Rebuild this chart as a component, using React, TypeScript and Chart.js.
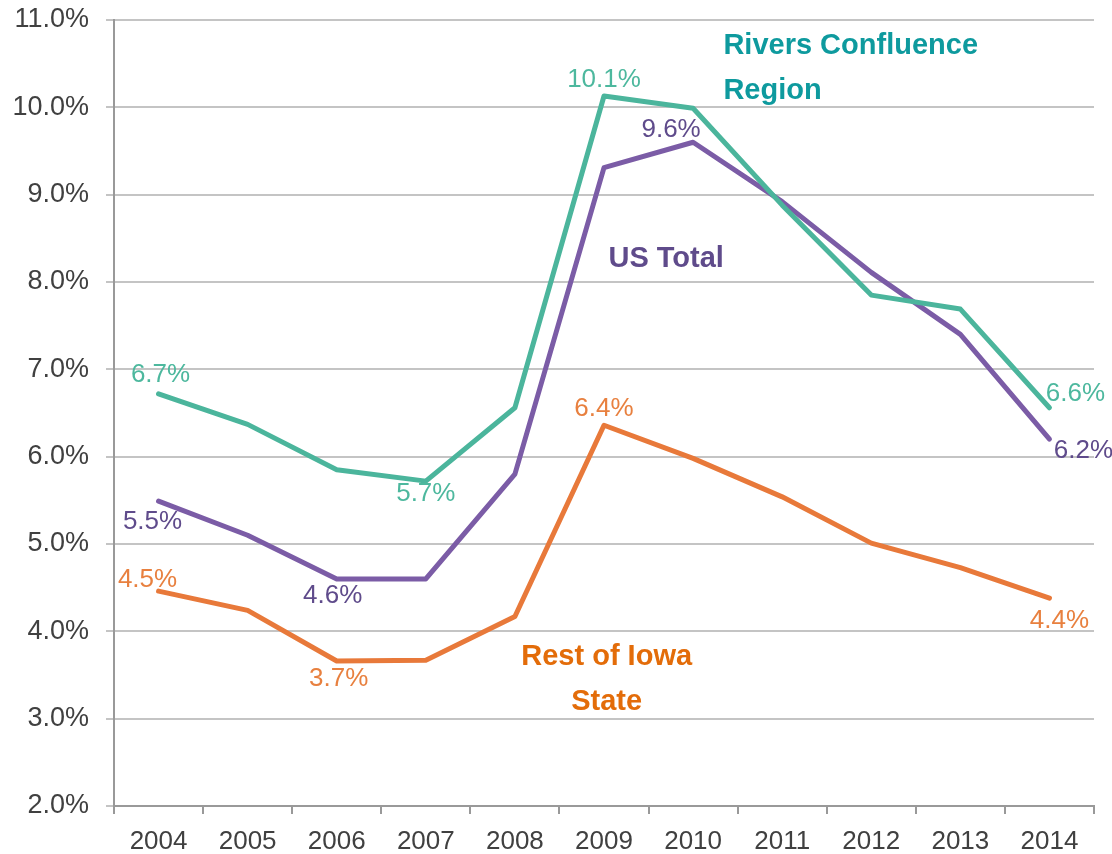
import React, { useEffect, useRef } from "react";
import { Chart, registerables } from "chart.js";

Chart.register(...registerables);

const years = ["2004", "2005", "2006", "2007", "2008", "2009", "2010", "2011", "2012", "2013", "2014"];
const riversConfluence = [6.72, 6.37, 5.85, 5.72, 6.56, 10.13, 9.99, 8.88, 7.85, 7.69, 6.56];
const usTotal = [5.49, 5.1, 4.6, 4.6, 5.8, 9.31, 9.6, 8.92, 8.11, 7.4, 6.2];
const restOfIowa = [4.46, 4.24, 3.66, 3.67, 4.17, 6.36, 5.98, 5.54, 5.01, 4.73, 4.38];
const yTicks = [2, 3, 4, 5, 6, 7, 8, 9, 10, 11];

// which points get value labels, and label offsets (px) relative to the point
const riversLabels = [
  { i: 0, dx: 2, dy: -19 },
  { i: 3, dx: 0, dy: 13 },
  { i: 5, dx: 0, dy: -16 },
  { i: 10, dx: 26, dy: -14 },
];
const usLabels = [
  { i: 0, dx: -6, dy: 21 },
  { i: 2, dx: -4, dy: 17 },
  { i: 6, dx: -22, dy: -12 },
  { i: 10, dx: 34, dy: 12 },
];
const iowaLabels = [
  { i: 0, dx: -11, dy: -11 },
  { i: 2, dx: 2, dy: 18 },
  { i: 5, dx: 0, dy: -16 },
  { i: 10, dx: 10, dy: 23 },
];

const GREEN = "#4BB59C";
const PURPLE = "#7B5CA6";
const ORANGE = "#E8793A";
const GREEN_LABEL = "#4DB89E";
const PURPLE_LABEL = "#5F4B8B";
const ORANGE_LABEL = "#E8803F";

const annotations = [
  { text: "Rivers Confluence", x: 6.34, y: 10.7, color: "#0E9A9E", align: "left" },
  { text: "Region", x: 6.34, y: 10.19, color: "#0E9A9E", align: "left" },
  { text: "US Total", x: 5.05, y: 8.26, color: "#5F4B8B", align: "left" },
  { text: "Rest of Iowa", x: 5.03, y: 3.71, color: "#E36C09", align: "center" },
  { text: "State", x: 5.03, y: 3.19, color: "#E36C09", align: "center" },
];

const labelPlugin = {
  id: "valueLabels",
  afterDatasetsDraw(chart: any) {
    const ctx = chart.ctx;
    const sets = [
      { ds: 0, labels: riversLabels, color: GREEN_LABEL },
      { ds: 1, labels: usLabels, color: PURPLE_LABEL },
      { ds: 2, labels: iowaLabels, color: ORANGE_LABEL },
    ];
    ctx.save();
    ctx.font = "26px 'Liberation Sans', Arial, sans-serif";
    ctx.textAlign = "center";
    ctx.textBaseline = "middle";
    for (const s of sets) {
      const meta = chart.getDatasetMeta(s.ds);
      const data = chart.data.datasets[s.ds].data as number[];
      ctx.fillStyle = s.color;
      for (const l of s.labels) {
        const pt = meta.data[l.i];
        ctx.fillText(data[l.i].toFixed(1) + "%", pt.x + l.dx, pt.y + l.dy);
      }
    }
    const xs = chart.scales.x;
    const ys = chart.scales.y;
    ctx.font = "bold 29px 'Liberation Sans', Arial, sans-serif";
    for (const a of annotations) {
      const px = xs.getPixelForValue(a.x);
      const py = ys.getPixelForValue(a.y);
      ctx.fillStyle = a.color;
      ctx.textAlign = a.align as CanvasTextAlign;
      ctx.fillText(a.text, px, py);
    }
    ctx.restore();
  },
};

export default function App() {
  const ref = useRef<HTMLCanvasElement | null>(null);
  useEffect(() => {
    if (!ref.current) return;
    const chart = new Chart(ref.current, {
      type: "line",
      data: {
        labels: years,
        datasets: [
          { label: "Rivers Confluence Region", data: riversConfluence, borderColor: GREEN, borderWidth: 5, pointRadius: 0, tension: 0, borderCapStyle: "round", borderJoinStyle: "round" },
          { label: "US Total", data: usTotal, borderColor: PURPLE, borderWidth: 5, pointRadius: 0, tension: 0, borderCapStyle: "round", borderJoinStyle: "round" },
          { label: "Rest of Iowa State", data: restOfIowa, borderColor: ORANGE, borderWidth: 5, pointRadius: 0, tension: 0, borderCapStyle: "round", borderJoinStyle: "round" },
        ],
      },
      options: {
        animation: false,
        responsive: true,
        maintainAspectRatio: false,
        layout: { padding: { top: 20, right: 18, left: 0, bottom: 0 } },
        plugins: { legend: { display: false }, tooltip: { enabled: false } },
        scales: {
          x: {
            type: "category",
            offset: true,
            grid: { display: true, drawOnChartArea: false, drawTicks: true, tickLength: 8, color: "#999999", lineWidth: 2, offset: true },
            border: { display: true, color: "#999999", width: 2 },
            ticks: { font: { size: 26, family: "'Liberation Sans', Arial, sans-serif" }, color: "#404040", padding: 12, maxRotation: 0 },
            afterFit: (s: any) => { s.height = 48; s.paddingLeft = 0; s.paddingRight = 0; },
          },
          y: {
            min: 2,
            max: 11,
            afterBuildTicks: (s: any) => { s.ticks = yTicks.map((v) => ({ value: v })); },
            grid: { color: "#C4C4C4", lineWidth: 2, tickLength: 8, drawTicks: true },
            border: { display: true, color: "#999999", width: 2 },
            ticks: {
              font: { size: 27, family: "'Liberation Sans', Arial, sans-serif" },
              color: "#404040",
              padding: 17,
              callback: (v: any) => Number(v).toFixed(1) + "%",
            },
            afterFit: (s: any) => { s.width = 114; s.paddingTop = 0; s.paddingBottom = 0; },
          },
        },
      },
      plugins: [labelPlugin],
    });
    return () => chart.destroy();
  }, []);
  return (
    <div style={{ position: "fixed", left: 0, top: 0, width: 1112, height: 854 }}>
      <canvas ref={ref} />
    </div>
  );
}
